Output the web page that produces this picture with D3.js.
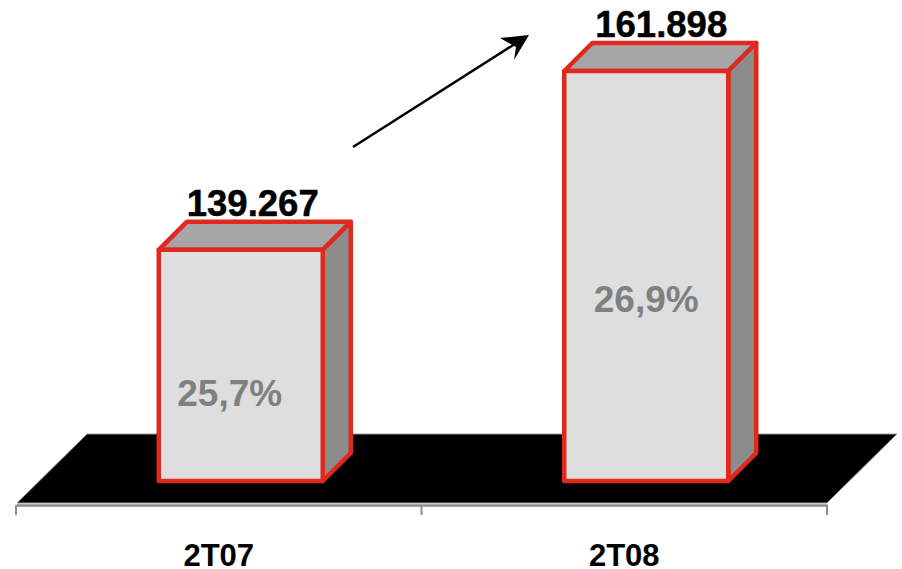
<!DOCTYPE html>
<html>
<head>
<meta charset="utf-8">
<script src="https://cdn.jsdelivr.net/npm/d3@7"></script>
<style>
  html, body { margin: 0; padding: 0; background: #fff; }
  svg { display: block; }
  text { font-family: "Liberation Sans", Arial, sans-serif; font-weight: bold; }
</style>
</head>
<body>
<svg id="chart" width="902" height="569"></svg>
<script>
const categories = ["2T07", "2T08"];
const totals = [139267, 161898];
const totalLabels = ["139.267", "161.898"];
const shares = ["25,7%", "26,9%"];

const depth = 28, barWidth = 164, barShift = 22;
const baseY = 481, floorFront = 503, floorBack = 434;

// hand placement of the labels, they are not centred in the original
const totalDx = [12, 15];
const shareDx = [-11, 0];
const shareLift = [0.325, 0.412];

const svg = d3.select("#chart");

const xScale = d3.scaleBand().domain(categories).range([16, 827]).padding(0);
// the value axis of the original does not start at zero
const yScale = d3.scaleLinear().domain([110000, 170000]).range([baseY, 7]);

const line = d3.line();

// floor
svg.append("path")
    .attr("d", line([[17, floorFront], [827, floorFront], [897, floorBack], [87, floorBack]]) + "Z")
    .attr("fill", "#000")
    .attr("stroke", "#999")
    .attr("stroke-width", 1);

// category axis
const axis = svg.append("g")
    .attr("transform", "translate(0,505)")
    .call(d3.axisBottom(xScale).tickSize(0).tickPadding(39));
axis.select(".domain").attr("stroke", "#8c8c8c").attr("stroke-width", 2.5);
axis.selectAll("text")
    .attr("fill", "#000")
    .style("font-size", "31px")
    .style("font-family", "'Liberation Sans', Arial, sans-serif");
axis.selectAll(".edge")
    .data(d3.range(categories.length + 1))
    .enter().append("line")
    .attr("class", "edge")
    .attr("x1", i => xScale.range()[0] + i * xScale.step())
    .attr("x2", i => xScale.range()[0] + i * xScale.step())
    .attr("y1", 0)
    .attr("y2", 10)
    .attr("stroke", "#8c8c8c")
    .attr("stroke-width", 2);

// bars
const bars = svg.selectAll(".bar")
    .data(categories.map((c, i) => ({ c, i, total: totals[i], label: totalLabels[i], share: shares[i] })))
    .enter().append("g")
    .attr("class", "bar");

const barLeft = d => xScale(d.c) + xScale.bandwidth() / 2 + barShift - barWidth / 2;
const barTop = d => yScale(d.total);

function face(el, fill, pts) {
    el.append("path")
        .attr("d", d => line(pts(d)) + "Z")
        .attr("fill", fill)
        .attr("stroke", "#e0281e")
        .attr("stroke-width", 4.5)
        .attr("stroke-linejoin", "round");
}

face(bars, "#a6a6a6", d => [
    [barLeft(d), barTop(d)], [barLeft(d) + barWidth, barTop(d)],
    [barLeft(d) + barWidth + depth, barTop(d) - depth], [barLeft(d) + depth, barTop(d) - depth]
]);
face(bars, "#8c8c8c", d => [
    [barLeft(d) + barWidth, barTop(d)], [barLeft(d) + barWidth + depth, barTop(d) - depth],
    [barLeft(d) + barWidth + depth, baseY - depth], [barLeft(d) + barWidth, baseY]
]);
face(bars, "#dedede", d => [
    [barLeft(d), barTop(d)], [barLeft(d) + barWidth, barTop(d)],
    [barLeft(d) + barWidth, baseY], [barLeft(d), baseY]
]);

bars.append("text")
    .attr("x", d => barLeft(d) + barWidth / 2 + totalDx[d.i])
    .attr("y", d => barTop(d) - 34)
    .attr("text-anchor", "middle")
    .style("font-size", "36.5px")
    .attr("fill", "#000")
    .attr("stroke", "#000")
    .attr("stroke-width", 0.5)
    .text(d => d.label);

bars.append("text")
    .attr("x", d => barLeft(d) + barWidth / 2 + shareDx[d.i])
    .attr("y", d => baseY - (baseY - barTop(d)) * shareLift[d.i])
    .attr("text-anchor", "middle")
    .style("font-size", "37px")
    .attr("fill", "#808080")
    .text(d => d.share);

// growth arrow
svg.append("line")
    .attr("x1", 353).attr("y1", 147)
    .attr("x2", 518).attr("y2", 42)
    .attr("stroke", "#000")
    .attr("stroke-width", 2.5);
svg.append("path")
    .attr("d", "M529,35 L500,38 L516,47 L514,60 Z")
    .attr("fill", "#000");
</script>
</body>
</html>
